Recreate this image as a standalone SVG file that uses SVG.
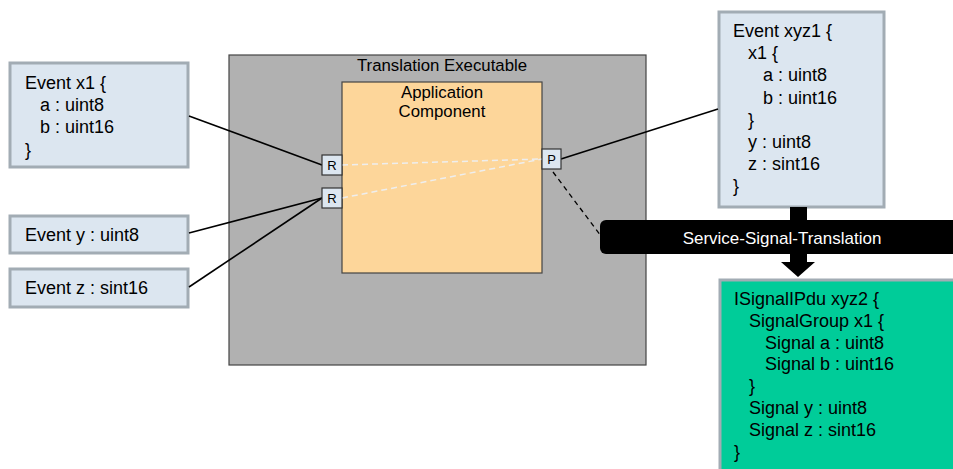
<svg xmlns="http://www.w3.org/2000/svg" width="953" height="469" viewBox="0 0 953 469">
<style>
text{font-family:"Liberation Sans",Arial,sans-serif;fill:#000}
.ev{fill:#DCE6F0;stroke:#A2ACB4;stroke-width:3}
.t16{font-size:18px}
.lbl{font-size:16.8px;text-anchor:middle}
.port{fill:#DCE6F0;stroke:#333;stroke-width:1.2}
.pt{font-size:13px;text-anchor:middle}
.cn{stroke:#000;stroke-width:1.6;fill:none}
.wd{stroke:#EEEEEE;stroke-width:1.5;stroke-dasharray:6,4;fill:none}
.bd{stroke:#000;stroke-width:1.3;stroke-dasharray:5,4;fill:none}
</style>
<rect width="953" height="469" fill="#fff"/>
<g id="translation-executable">
<rect x="229" y="55" width="417" height="310" fill="#B1B1B1" stroke="#444" stroke-width="1.2"/>
<text x="442" y="71" class="lbl">Translation Executable</text>
</g>
<g id="application-component">
<rect x="342" y="82" width="200" height="191" fill="#FDD69A" stroke="#444" stroke-width="1.2"/>
<text x="442" y="98" class="lbl">Application</text>
<text x="442" y="117" class="lbl">Component</text>
</g>
<g id="event-x1">
<rect class="ev" x="10" y="63" width="178" height="104"/>
<text class="t16" x="25" y="89">Event x1 {</text>
<text class="t16" x="40" y="111">a : uint8</text>
<text class="t16" x="40" y="133">b : uint16</text>
<text class="t16" x="25" y="156">}</text>
</g>
<g id="event-y">
<rect class="ev" x="10" y="216" width="178" height="37"/>
<text class="t16" x="25" y="241">Event y : uint8</text>
</g>
<g id="event-z">
<rect class="ev" x="10" y="269" width="178" height="38"/>
<text class="t16" x="25" y="294">Event z : sint16</text>
</g>
<g id="event-xyz1">
<rect class="ev" x="719" y="12" width="165" height="195"/>
<text class="t16" x="733" y="37">Event xyz1 {</text>
<text class="t16" x="748" y="59">x1 {</text>
<text class="t16" x="763" y="81">a : uint8</text>
<text class="t16" x="763" y="104">b : uint16</text>
<text class="t16" x="748" y="126">}</text>
<text class="t16" x="748" y="148">y : uint8</text>
<text class="t16" x="748" y="170">z : sint16</text>
<text class="t16" x="733" y="192">}</text>
</g>
<g id="isignalipdu-xyz2">
<rect x="720" y="280" width="240" height="200" fill="#00CC99" stroke="#A2ACB4" stroke-width="3"/>
<text class="t16" x="734" y="305">ISignalIPdu xyz2 {</text>
<text class="t16" x="749" y="327">SignalGroup x1 {</text>
<text class="t16" x="765" y="349">Signal a : uint8</text>
<text class="t16" x="765" y="370">Signal b : uint16</text>
<text class="t16" x="749" y="392">}</text>
<text class="t16" x="749" y="414">Signal y : uint8</text>
<text class="t16" x="749" y="436">Signal z : sint16</text>
<text class="t16" x="734" y="458">}</text>
</g>
<g id="connectors">
<line class="cn" x1="189" y1="116" x2="322" y2="165"/>
<line class="cn" x1="189" y1="233" x2="322" y2="198"/>
<line class="cn" x1="189" y1="287" x2="322" y2="198"/>
<line class="wd" x1="342" y1="165" x2="542" y2="159"/>
<line class="wd" x1="342" y1="198" x2="542" y2="159"/>
<line class="cn" x1="561" y1="159" x2="718" y2="109"/>
<line class="bd" x1="553" y1="172" x2="601" y2="236"/>
</g>
<g id="port-r1">
<rect class="port" x="322" y="155" width="20" height="20"/>
<text class="pt" x="332" y="170">R</text>
</g>
<g id="port-r2">
<rect class="port" x="322" y="188" width="20" height="20"/>
<text class="pt" x="332" y="203">R</text>
</g>
<g id="port-p">
<rect class="port" x="542" y="149" width="19" height="20"/>
<text class="pt" x="551.5" y="164">P</text>
</g>
<g id="service-signal-translation">
<rect x="790" y="207" width="17" height="16" fill="#000"/>
<rect x="600" y="220" width="370" height="34" rx="6" fill="#000"/>
<path d="M790 253 H807 V262 H815 L798 277 L781 262 H790 Z" fill="#000"/>
<text x="782" y="244" text-anchor="middle" style="font-size:17px;fill:#fff">Service-Signal-Translation</text>
</g>
</svg>
